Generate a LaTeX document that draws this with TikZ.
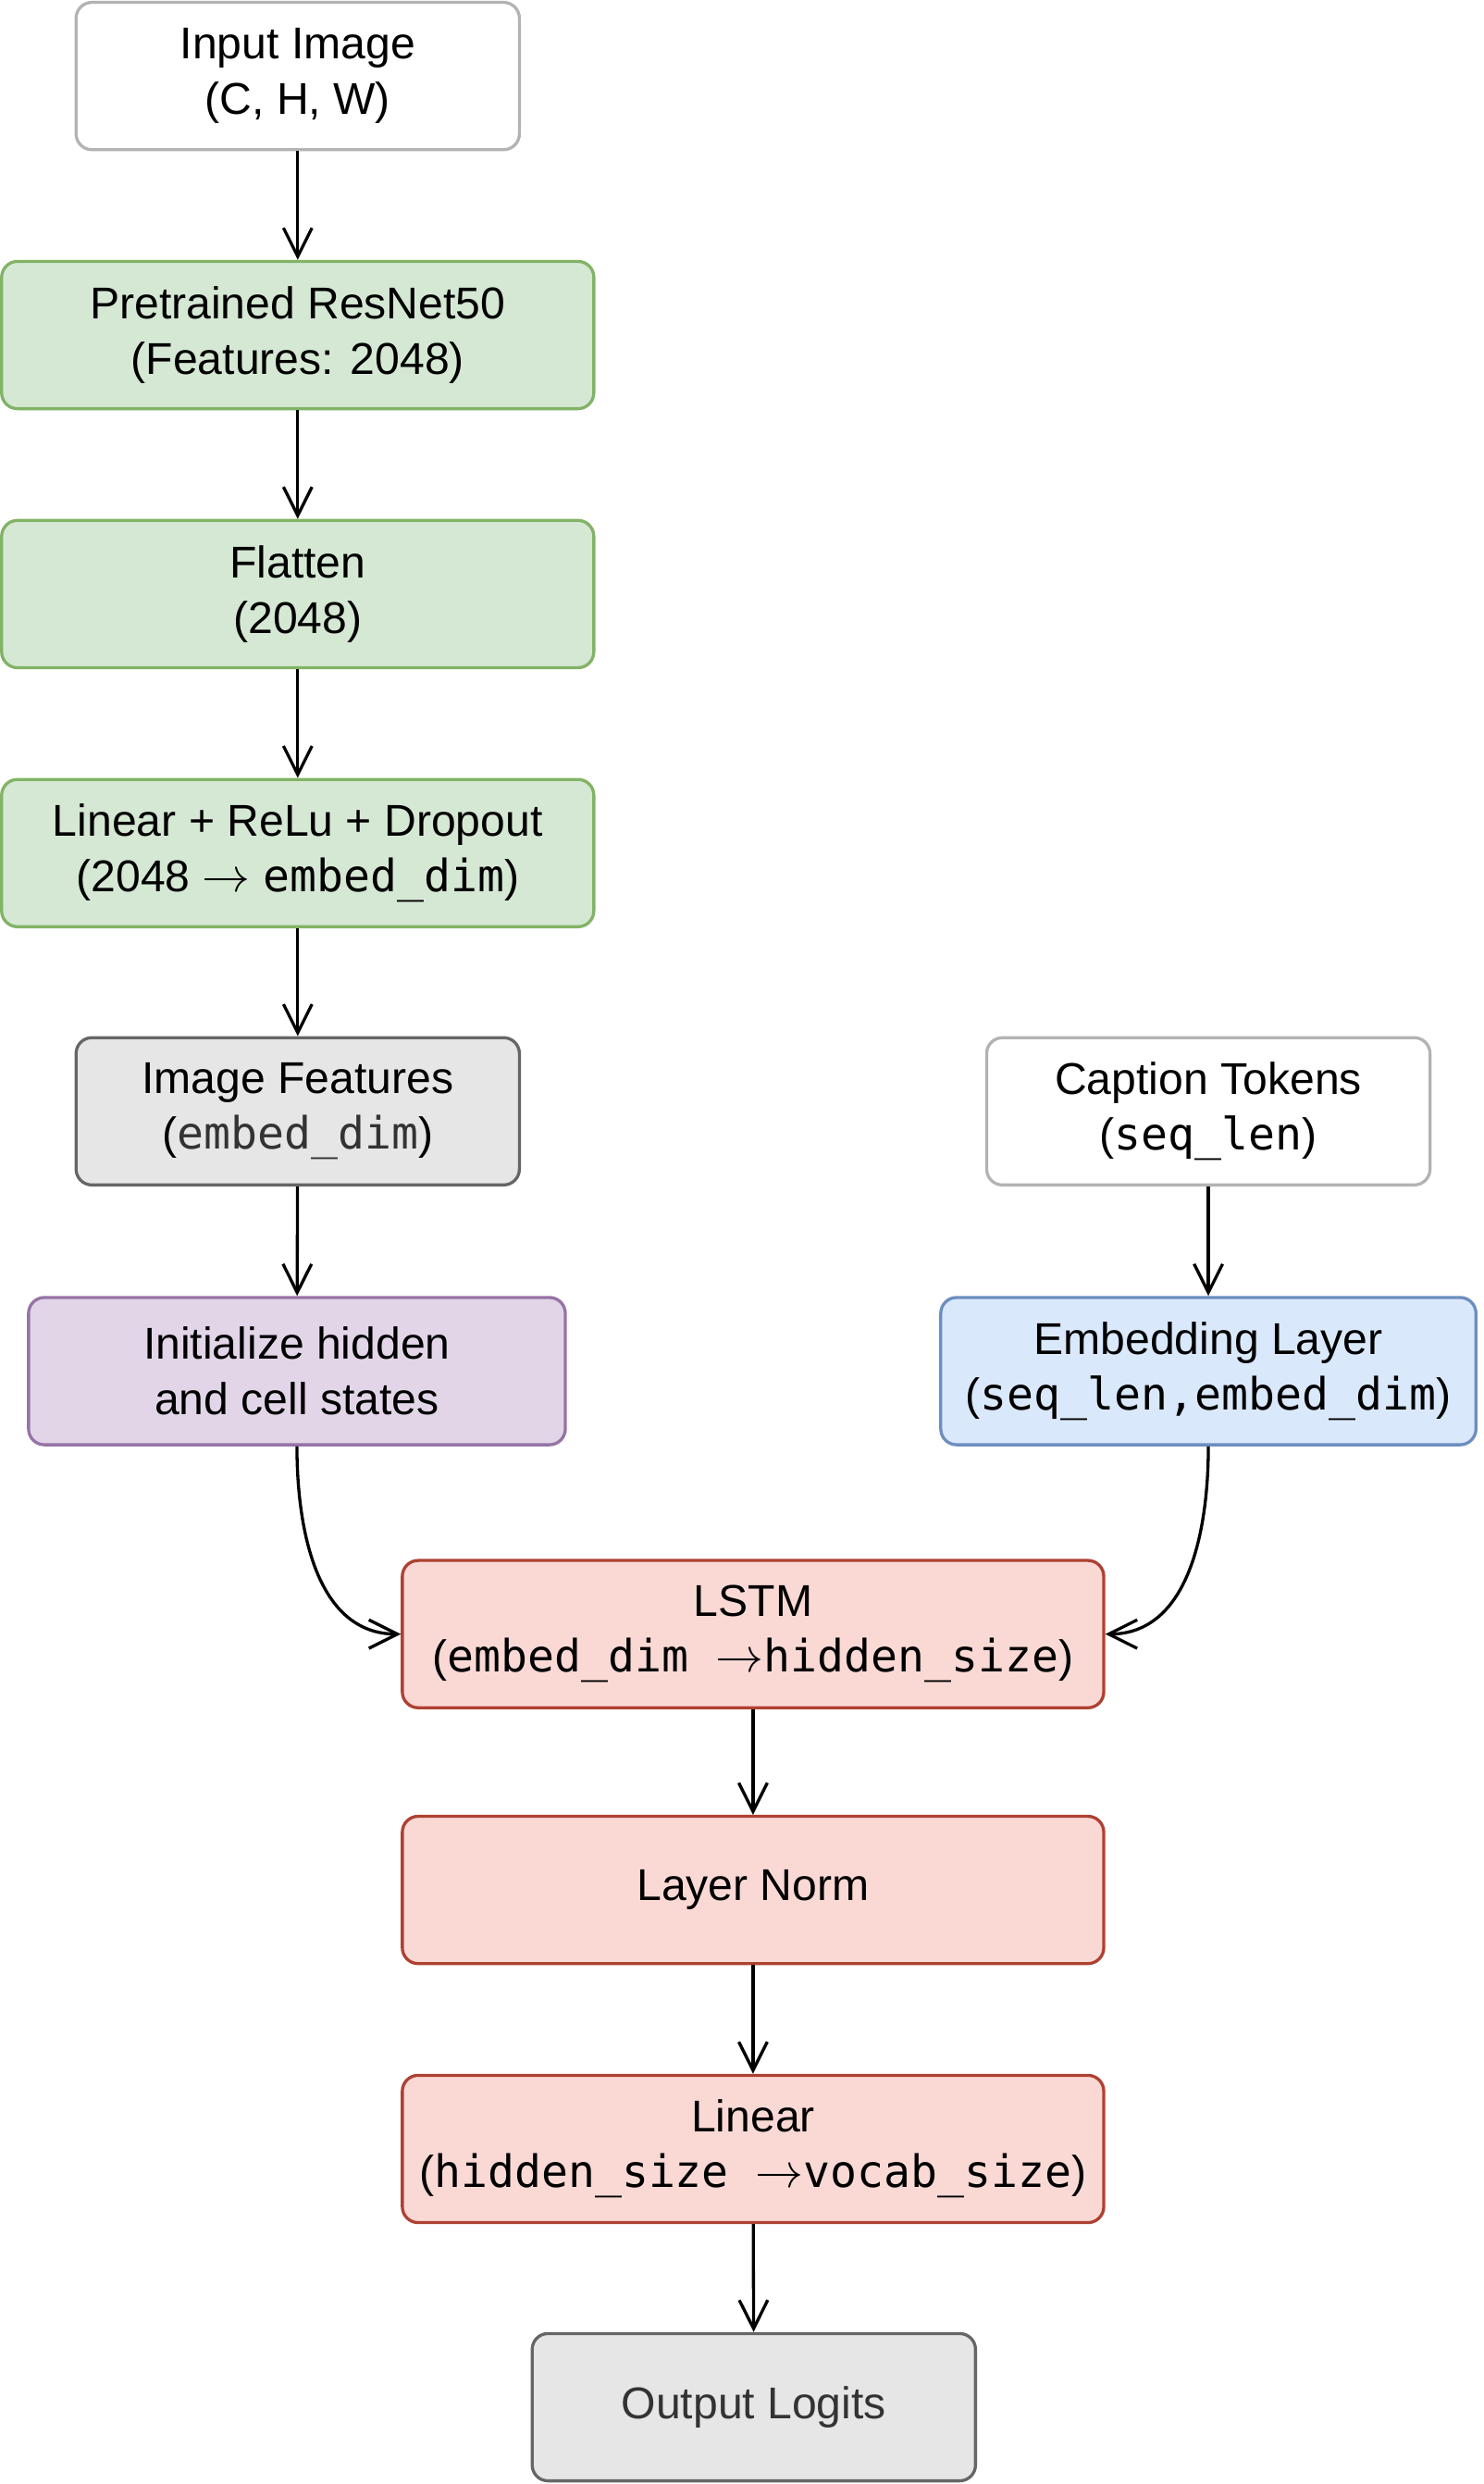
\documentclass[tikz,border=0pt]{standalone}
\usepackage{fontspec}
\setmainfont{Liberation Sans}
\newfontfamily\codefont{DejaVu Sans Mono}
\usetikzlibrary{arrows.meta}

\definecolor{plainline}{HTML}{B3B3B3}
\definecolor{greenfill}{HTML}{D5E8D4}
\definecolor{greenline}{HTML}{82B366}
\definecolor{grayfill}{HTML}{E6E6E6}
\definecolor{grayline}{HTML}{666666}
\definecolor{purplefill}{HTML}{E1D5E7}
\definecolor{purpleline}{HTML}{9673A6}
\definecolor{bluefill}{HTML}{DAE8FC}
\definecolor{blueline}{HTML}{6C8EBF}
\definecolor{redfill}{HTML}{FAD9D5}
\definecolor{redline}{HTML}{AE4132}
\definecolor{softtext}{HTML}{333333}

\newcommand{\code}[1]{{\codefont #1}}

\tikzset{
	block/.style={draw, rounded corners=0.2cm, line width=1.1pt, align=center, inner sep=0pt,
		minimum height=1.86cm, font=\fontsize{16}{19.9}\selectfont},
	plainbox/.style={block, draw=plainline, fill=white, minimum width=5.6cm},
	cnnbox/.style={block, draw=greenline, fill=greenfill, minimum width=7.48cm},
	featbox/.style={block, draw=grayline, fill=grayfill, minimum width=5.6cm},
	statebox/.style={block, draw=purpleline, fill=purplefill, minimum width=6.78cm},
	embbox/.style={block, draw=blueline, fill=bluefill, minimum width=6.76cm},
	rnnbox/.style={block, draw=redline, fill=redfill, minimum width=8.86cm},
	flow/.style={line width=1.1pt, -{Straight Barb[length=0.36cm, width=0.36cm]}}
}

\begin{document}
\begin{tikzpicture}[x=0.02cm, y=-0.02cm]
			%%%%% START %%%%%
			
			\useasboundingbox (0, 0) rectangle (937, 1568);
			
			% image branch
			\node[plainbox] (inp) at (188, 48) {Input Image\\(C, H, W)};
			\node[cnnbox] (res) at (188, 211.5) {Pretrained ResNet50\\(Features: 2048)};
			\node[cnnbox] (flat) at (188, 375) {Flatten\\(2048)};
			\node[cnnbox] (lin) at (188, 538.5) {Linear + ReLu + Dropout\\(2048 $\rightarrow$ \code{embed\_dim})};
			\node[featbox] (feat) at (188, 701.5) {Image Features\\(\textcolor{softtext}{\code{embed\_dim}})};
			\node[statebox] (init) at (187.5, 865.5) {Initialize hidden\\and cell states};
			
			% caption branch
			\node[plainbox] (cap) at (763, 701.5) {Caption Tokens\\(\code{seq\_len})};
			\node[embbox] (emb) at (763, 865.5) {Embedding Layer\\(\code{seq\_len,embed\_dim})};
			
			% decoder
			\node[rnnbox] (lstm) at (475.5, 1031.5) {LSTM\\(\code{embed\_dim\ }$\rightarrow$\code{hidden\_size})};
			\node[rnnbox] (norm) at (475.5, 1193) {Layer Norm};
			\node[rnnbox] (proj) at (475.5, 1356.5) {Linear\\(\code{hidden\_size\ }$\rightarrow$\code{vocab\_size})};
			\node[featbox, text=softtext] (out) at (476, 1519.5) {Output Logits};
			
			\draw[flow] (inp) -- (res);
			\draw[flow] (res) -- (flat);
			\draw[flow] (flat) -- (lin);
			\draw[flow] (lin) -- (feat);
			\draw[flow] (feat) -- (init);
			\draw[flow] (cap) -- (emb);
			
			\draw[flow] (init.south) to[out=-90, in=180] (lstm.west);
			\draw[flow] (emb.south) to[out=-90, in=0] (lstm.east);
			
			\draw[flow] (lstm) -- (norm);
			\draw[flow] (norm) -- (proj);
			\draw[flow] (proj) -- (out);
			
			%%%%% END %%%%%
\end{tikzpicture}
\end{document}
